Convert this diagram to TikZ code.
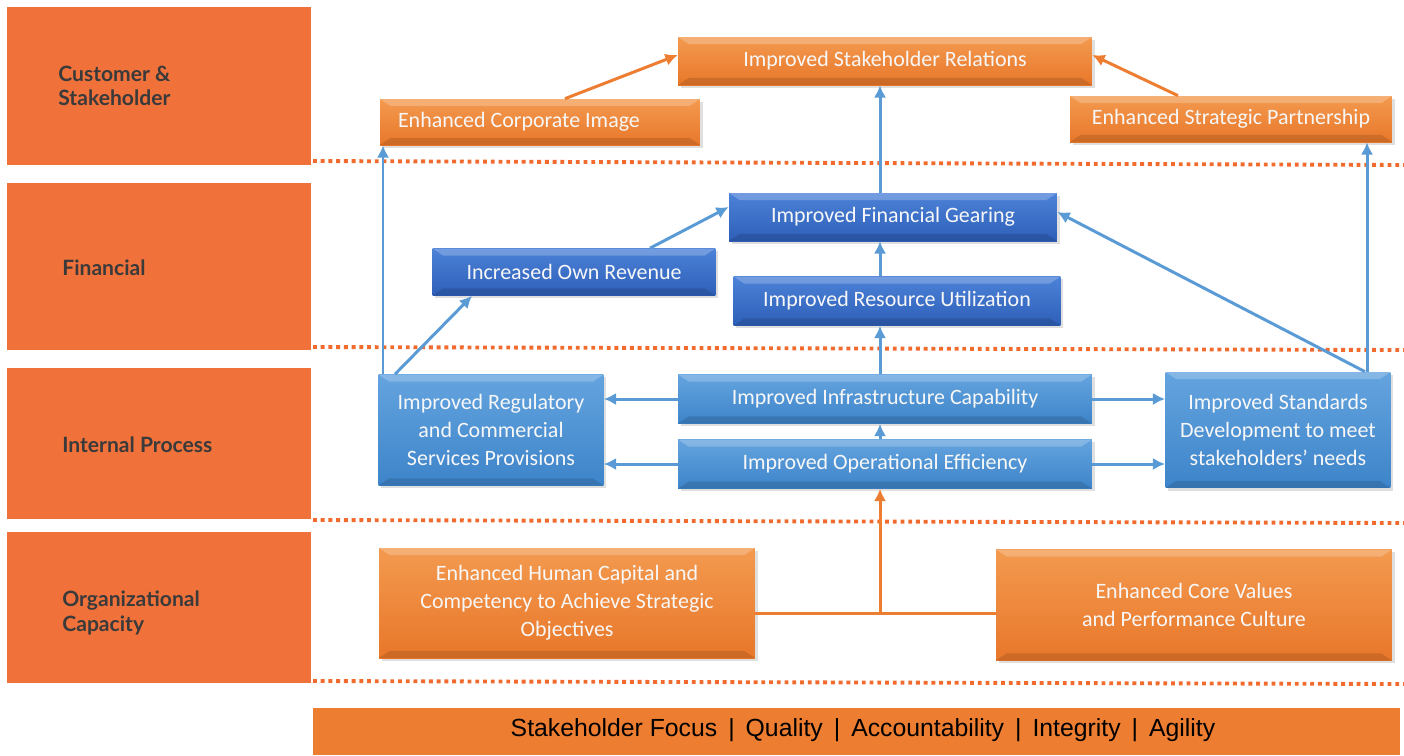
\documentclass[tikz,border=0pt]{standalone}
\usepackage{fontspec}
\setmainfont{Carlito}
\newfontfamily\lblfont{Lato}
\newfontfamily\barfont{Liberation Sans}
\usetikzlibrary{arrows.meta, shadows}

\definecolor{panel}{HTML}{F0723A}
\definecolor{dots}{HTML}{F26B2E}
\definecolor{barbg}{HTML}{ED7D31}
\definecolor{lbltext}{HTML}{3A3A3A}
\definecolor{oboxtop}{HTML}{F39A4F}
\definecolor{oboxbot}{HTML}{E8772A}
\definecolor{dboxtop}{HTML}{4C82D8}
\definecolor{dboxbot}{HTML}{2E5FB8}
\definecolor{lboxtop}{HTML}{64A4DF}
\definecolor{lboxbot}{HTML}{3D84C9}
\definecolor{arrb}{HTML}{5B9BD5}
\definecolor{arro}{HTML}{ED7D31}

\begin{document}
\begin{tikzpicture}[x=0.02cm, y=-0.02cm,
  lbl/.style={anchor=west, align=left, inner sep=0pt, text=lbltext, font=\lblfont\bfseries\fontsize{12}{14}\selectfont},
  sep/.style={draw=dots, line width=2.2pt, dash pattern=on 2.2pt off 2.2pt},
  box/.style={draw=none, text=white!94!gray, align=center, font=\fontsize{12.5}{16}\selectfont,
    drop shadow={opacity=.25, shadow xshift=1.5pt, shadow yshift=-1.5pt},
    path picture={
      \fill[white, opacity=.22] (path picture bounding box.north west) -- (path picture bounding box.north east)
        -- ([xshift=-6pt,yshift=-4pt]path picture bounding box.north east) -- ([xshift=6pt,yshift=-4pt]path picture bounding box.north west) -- cycle;
      \fill[black, opacity=.12] (path picture bounding box.south west) -- (path picture bounding box.south east)
        -- ([xshift=-6pt,yshift=4pt]path picture bounding box.south east) -- ([xshift=6pt,yshift=4pt]path picture bounding box.south west) -- cycle;}},
  obox/.style={box, top color=oboxtop, bottom color=oboxbot},
  dbox/.style={box, top color=dboxtop, bottom color=dboxbot},
  lbox/.style={box, top color=lboxtop, bottom color=lboxbot},
  barr/.style={draw=arrb, line width=1.7pt, -{Latex[length=7pt,width=7pt]}},
  oarr/.style={draw=arro, line width=1.7pt, -{Latex[length=7pt,width=7pt]}},
  oline/.style={draw=arro, line width=1.7pt}]

\useasboundingbox (0,0) rectangle (1404,755);

% perspective bands on the left
\fill[panel] (7,7) rectangle (311,165);
\fill[panel] (7,183) rectangle (311,350);
\fill[panel] (7,368) rectangle (311,519);
\fill[panel] (7,532) rectangle (311,683);
\node[lbl] (p1) at (58,86) {Customer \&\\Stakeholder};
\node[lbl] (p2) at (62,268) {Financial};
\node[lbl] (p3) at (62,445) {Internal Process};
\node[lbl] (p4) at (62,613) {Organizational\\Capacity};

% dotted band separators
\draw[sep] (313,161) -- (1404,165);
\draw[sep] (313,347) -- (1404,350);
\draw[sep] (313,520) -- (1404,523);
\draw[sep] (313,681) -- (1404,684);

% values bar
\fill[barbg] (313,708) rectangle (1400,755);
\node[font=\barfont\fontsize{14.1}{16}\selectfont, text=black] (vals) at (863,730)
  {Stakeholder Focus \,|\, Quality \,|\, Accountability \,|\, Integrity \,|\, Agility};

% objectives
\node[obox, minimum width=8.28cm, minimum height=.96cm] (rel) at (885,61) {Improved Stakeholder Relations};
\node[obox, minimum width=6.4cm, minimum height=.92cm, inner xsep=.36cm, text width=5.68cm, align=flush left] (img) at (540,122) {Enhanced Corporate Image};
\node[obox, minimum width=6.44cm, minimum height=.92cm] (part) at (1231,119) {Enhanced Strategic Partnership};
\node[dbox, minimum width=6.56cm, minimum height=.96cm] (gear) at (893,217) {Improved Financial Gearing};
\node[dbox, minimum width=5.66cm, minimum height=.94cm] (rev) at (574,272) {Increased Own Revenue};
\node[dbox, minimum width=6.54cm, minimum height=.98cm] (res) at (897,301) {Improved Resource Utilization};
\node[lbox, minimum width=4.5cm, minimum height=2.22cm] (reg) at (491,430) {Improved Regulatory\\and Commercial\\Services Provisions};
\node[lbox, minimum width=8.28cm, minimum height=.98cm] (infra) at (885,399) {Improved Infrastructure Capability};
\node[lbox, minimum width=8.28cm, minimum height=.98cm] (ops) at (885,464) {Improved Operational Efficiency};
\node[lbox, minimum width=4.5cm, minimum height=2.32cm] (std) at (1278,430) {Improved Standards\\Development to meet\\stakeholders’ needs};
\node[obox, minimum width=7.52cm, minimum height=2.2cm] (hum) at (567,603) {Enhanced Human Capital and\\Competency to Achieve Strategic\\Objectives};
\node[obox, minimum width=7.92cm, minimum height=2.22cm] (core) at (1194,605) {Enhanced Core Values\\and Performance Culture};

\coordinate (cx) at (880,0);
\coordinate (lx) at (383,0);
\coordinate (px) at (1367,0);
\coordinate (j) at (880,613);

% links
\draw[oarr] ([xshift=.5cm]img.north) -- ([yshift=.12cm]rel.west);
\draw[oarr] ([xshift=-1.06cm]part.north) -- ([yshift=.12cm]rel.east);
\draw[barr] (gear.north -| cx) -- (rel.south -| cx);
\draw[barr] (res.north -| cx) -- (gear.south -| cx);
\draw[barr] ([xshift=1.52cm]rev.north) -- ([yshift=.2cm]gear.west);
\draw[barr] ([xshift=1.74cm]std.north) -- ([yshift=.1cm]gear.east);
\draw[barr] (std.north -| px) -- (part.south -| px);
\draw[barr] (reg.north -| lx) -- (img.south -| lx);
\draw[barr] ([xshift=-1.92cm]reg.north) -- ([xshift=-2.04cm]rev.south);
\draw[barr] (infra.north -| cx) -- (res.south -| cx);
\draw[barr] (ops.north -| cx) -- (infra.south -| cx);
\draw[barr] (infra.west) -- (infra.west -| reg.east);
\draw[barr] (infra.east) -- (infra.east -| std.west);
\draw[barr] (ops.west) -- (ops.west -| reg.east);
\draw[barr] (ops.east) -- (ops.east -| std.west);
\draw[oline] (hum.east |- j) -- (core.west |- j);
\draw[oarr] (j) -- (ops.south -| j);
\end{tikzpicture}
\end{document}
